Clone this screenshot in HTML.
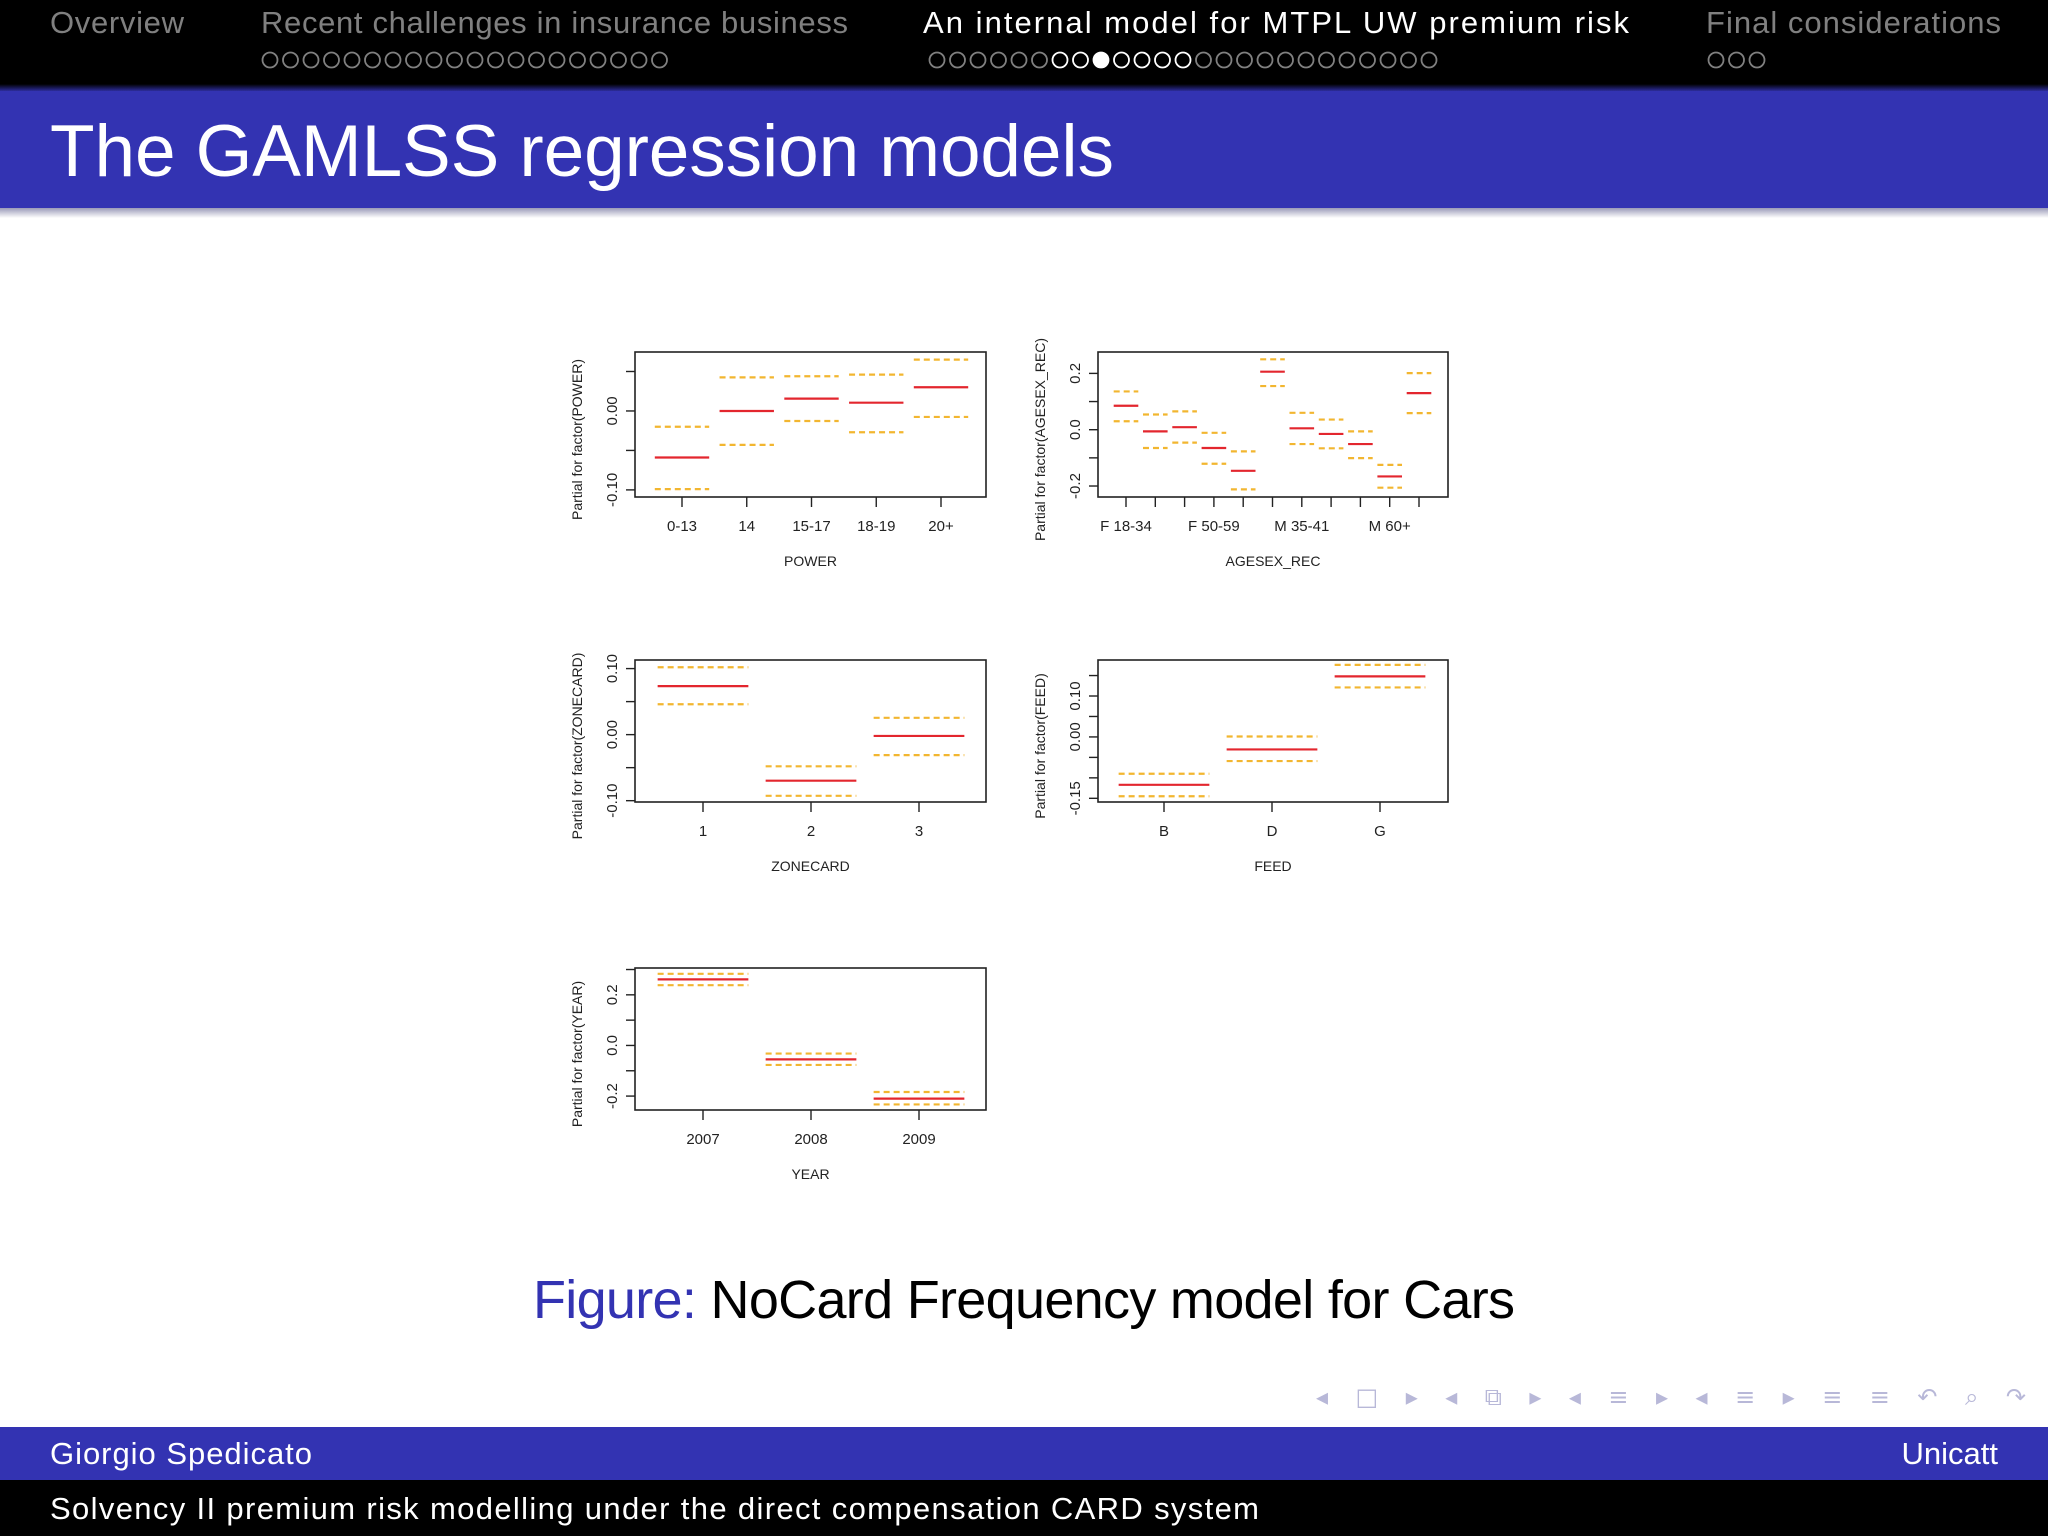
<!DOCTYPE html>
<html><head><meta charset="utf-8"><title>The GAMLSS regression models</title>
<style>
html,body{margin:0;padding:0;background:#fff;}
svg{display:block;font-family:"Liberation Sans",sans-serif;}
</style></head>
<body>
<svg id="slide" width="2048" height="1536" viewBox="0 0 2048 1536" xmlns="http://www.w3.org/2000/svg">
<defs>
<linearGradient id="shadeTop" x1="0" y1="0" x2="0" y2="1"><stop offset="0" stop-color="#000"/><stop offset="1" stop-color="#3333b2"/></linearGradient>
<linearGradient id="shadeBot" x1="0" y1="0" x2="0" y2="1"><stop offset="0" stop-color="#9a9ab8"/><stop offset="1" stop-color="#ffffff"/></linearGradient>
</defs>
<rect x="0" y="0" width="2048" height="86" fill="#000"/>
<rect x="0" y="84" width="2048" height="8" fill="url(#shadeTop)"/>
<rect x="0" y="91" width="2048" height="117" fill="#3333b2"/>
<rect x="0" y="208" width="2048" height="10" fill="url(#shadeBot)"/>
<g font-size="31" fill="#808080">
<text x="50" y="33" textLength="134">Overview</text>
<text x="261" y="33" textLength="587">Recent challenges in insurance business</text>
<text x="923" y="33" textLength="706" fill="#fff">An internal model for MTPL UW premium risk</text>
<text x="1706" y="33" textLength="295">Final considerations</text>
</g>
<g id="navdots"></g>
<text x="50" y="176" font-size="73" fill="#fff" textLength="1064">The GAMLSS regression models</text>
<g id="charts"></g>
<text x="533" y="1318" font-size="54" textLength="982"><tspan fill="#3333b2">Figure:</tspan><tspan fill="#000"> NoCard Frequency model for Cars</tspan></text>
<text x="1316" y="1405" font-size="24" fill="#b8b8d8" font-family="DejaVu Sans, sans-serif" textLength="710">◂ □ ▸  ◂ ⧉ ▸  ◂ ≡ ▸  ◂ ≡ ▸  ≡ ≡  ↶ ⌕ ↷</text>
<rect x="0" y="1427" width="2048" height="53" fill="#3333b2"/>
<rect x="0" y="1480" width="2048" height="56" fill="#000"/>
<text x="50" y="1464" font-size="31" fill="#fff" textLength="262">Giorgio Spedicato</text>
<text x="1998" y="1464" font-size="31" fill="#fff" text-anchor="end">Unicatt</text>
<text x="50" y="1519" font-size="31" fill="#fff" textLength="1209">Solvency II premium risk modelling under the direct compensation CARD system</text>
</svg>
<script>
// ---- data ----
const powerCats = ["0-13","14","15-17","18-19","20+"];
const powerEst = [-0.059, 0.000, 0.0156, 0.0105, 0.030];
const powerLo = [-0.099, -0.043, -0.0127, -0.027, -0.0076];
const powerHi = [-0.020, 0.0426, 0.044, 0.046, 0.065];
const powerTicks = [-0.10, -0.05, 0.00, 0.05];
const powerTickLabels = ["-0.10", "", "0.00", ""];

const agesexCats = ["F 18-34","","","F 50-59","","","M 35-41","","","M 60+",""];
const agesexEst = [0.085, -0.006, 0.009, -0.065, -0.146, 0.206, 0.005, -0.015, -0.051, -0.166, 0.130];
const agesexLo = [0.030, -0.065, -0.046, -0.121, -0.212, 0.155, -0.051, -0.066, -0.101, -0.206, 0.059];
const agesexHi = [0.136, 0.054, 0.065, -0.011, -0.077, 0.250, 0.060, 0.036, -0.006, -0.125, 0.201];
const agesexTicks = [-0.2, -0.1, 0.0, 0.1, 0.2];
const agesexTickLabels = ["-0.2", "", "0.0", "", "0.2"];

const zoneCats = ["1","2","3"];
const zoneEst = [0.0734, -0.0697, -0.002];
const zoneLo = [0.046, -0.0926, -0.031];
const zoneHi = [0.102, -0.048, 0.0255];
const zoneTicks = [-0.10, -0.05, 0.00, 0.05, 0.10];
const zoneTickLabels = ["-0.10", "", "0.00", "", "0.10"];

const feedCats = ["B","D","G"];
const feedEst = [-0.117, -0.0305, 0.148];
const feedLo = [-0.145, -0.059, 0.121];
const feedHi = [-0.090, 0.001, 0.176];
const feedTicks = [-0.15, -0.10, -0.05, 0.00, 0.05, 0.10, 0.15];
const feedTickLabels = ["-0.15", "", "", "0.00", "", "0.10", ""];

const yearCats = ["2007","2008","2009"];
const yearEst = [0.261, -0.055, -0.210];
const yearLo = [0.238, -0.077, -0.233];
const yearHi = [0.283, -0.032, -0.184];
const yearTicks = [-0.2, -0.1, 0.0, 0.1, 0.2, 0.3];
const yearTickLabels = ["-0.2", "", "0.0", "", "0.2", ""];

const NS = "http://www.w3.org/2000/svg";
function mk(tag, attrs, parent) {
  const e = document.createElementNS(NS, tag);
  for (const k in attrs) e.setAttribute(k, attrs[k]);
  parent.appendChild(e);
  return e;
}

// nav dots
const dots = document.getElementById('navdots');
function dotRow(x0, n, filledIdx, whiteFrom, whiteTo, key) {
  for (let i = 0; i < n; i++) {
    const white = i >= whiteFrom && i <= whiteTo;
    const c = mk('circle', {cx: x0 + 8 + i * 20.5, cy: 60, r: 7.5, fill: i === filledIdx ? '#fff' : 'none', stroke: white ? '#fff' : '#808080', 'stroke-width': 1.8}, dots);
    
    
  }
}
dotRow(262, 20, -1, -1, -1, 'recent-challenges');
dotRow(929, 25, 8, 6, 12, 'internal-model');
dotRow(1708, 3, -1, -1, -1, 'final-considerations');

const charts = document.getElementById('charts');

function panel(cfg, cats, est, lo, hi, ticks, tickLabels) {
  const g = mk('g', {}, charts);
  
  
  const yScale = v => cfg.y1 - (v - cfg.ymin) / (cfg.ymax - cfg.ymin) * (cfg.y1 - cfg.y0);
  const n = cats.length;
  const step = (cfg.x1 - cfg.x0 - cfg.padL - cfg.padR) / (n - 1);
  const xScale = i => cfg.x0 + cfg.padL + i * step;
  const hw = step * 0.42;
  const box = mk('rect', {x: cfg.x0, y: cfg.y0, width: cfg.x1 - cfg.x0, height: cfg.y1 - cfg.y0, fill: 'none', stroke: '#222', 'stroke-width': 1.6}, g);
  
  
  ticks.forEach((t, i) => {
    const y = yScale(t);
    const tk = mk('line', {x1: cfg.x0 - 9, x2: cfg.x0, y1: y, y2: y, stroke: '#222', 'stroke-width': 1.4}, g);
    
    
    if (tickLabels[i]) {
      const tx = mk('text', {x: 0, y: 0, 'font-size': 15, 'text-anchor': 'middle', fill: '#222', transform: `translate(${cfg.x0 - 18},${y}) rotate(-90)`}, g);
      tx.textContent = tickLabels[i];
      
      
    }
  });
  cats.forEach((c, i) => {
    const x = xScale(i);
    const tk = mk('line', {x1: x, x2: x, y1: cfg.y1, y2: cfg.y1 + 10, stroke: '#222', 'stroke-width': 1.4}, g);
    
    
    if (c) {
      const tx = mk('text', {x: x, y: cfg.y1 + 34, 'font-size': 15, 'text-anchor': 'middle', fill: '#222'}, g);
      tx.textContent = c;
      
      
    }
  });
  const xt = mk('text', {x: (cfg.x0 + cfg.x1) / 2, y: cfg.y1 + 69, 'font-size': 14, 'text-anchor': 'middle', fill: '#222'}, g);
  xt.textContent = cfg.xTitle;
  
  
  const yt = mk('text', {x: 0, y: 0, 'font-size': 14, 'text-anchor': 'middle', fill: '#222', transform: `translate(${cfg.x0 - 53},${(cfg.y0 + cfg.y1) / 2 + 15}) rotate(-90)`}, g);
  yt.textContent = 'Partial for factor(' + cfg.xTitle + ')';
  
  
  cats.forEach((c, i) => {
    const x = xScale(i);
    const u = mk('line', {x1: x - hw, x2: x + hw, y1: yScale(hi[i]), y2: yScale(hi[i]), stroke: '#f2b630', 'stroke-width': 2.2, 'stroke-dasharray': '6 4'}, g);
    
    
    const l = mk('line', {x1: x - hw, x2: x + hw, y1: yScale(lo[i]), y2: yScale(lo[i]), stroke: '#f2b630', 'stroke-width': 2.2, 'stroke-dasharray': '6 4'}, g);
    
    
    const e = mk('line', {x1: x - hw, x2: x + hw, y1: yScale(est[i]), y2: yScale(est[i]), stroke: '#e3262e', 'stroke-width': 2.2}, g);
    
    
  });
}

panel({key: 'power', xTitle: 'POWER', x0: 635, x1: 986, y0: 352, y1: 497, ymin: -0.109, ymax: 0.0747, padL: 47, padR: 45}, powerCats, powerEst, powerLo, powerHi, powerTicks, powerTickLabels);
panel({key: 'agesex', xTitle: 'AGESEX_REC', x0: 1098, x1: 1448, y0: 352, y1: 497, ymin: -0.239, ymax: 0.276, padL: 28, padR: 29}, agesexCats, agesexEst, agesexLo, agesexHi, agesexTicks, agesexTickLabels);
panel({key: 'zonecard', xTitle: 'ZONECARD', x0: 635, x1: 986, y0: 660, y1: 802, ymin: -0.102, ymax: 0.113, padL: 68, padR: 67}, zoneCats, zoneEst, zoneLo, zoneHi, zoneTicks, zoneTickLabels);
panel({key: 'feed', xTitle: 'FEED', x0: 1098, x1: 1448, y0: 660, y1: 802, ymin: -0.159, ymax: 0.188, padL: 66, padR: 68}, feedCats, feedEst, feedLo, feedHi, feedTicks, feedTickLabels);
panel({key: 'year', xTitle: 'YEAR', x0: 635, x1: 986, y0: 968, y1: 1110, ymin: -0.255, ymax: 0.306, padL: 68, padR: 67}, yearCats, yearEst, yearLo, yearHi, yearTicks, yearTickLabels);
</script>
</body></html>
